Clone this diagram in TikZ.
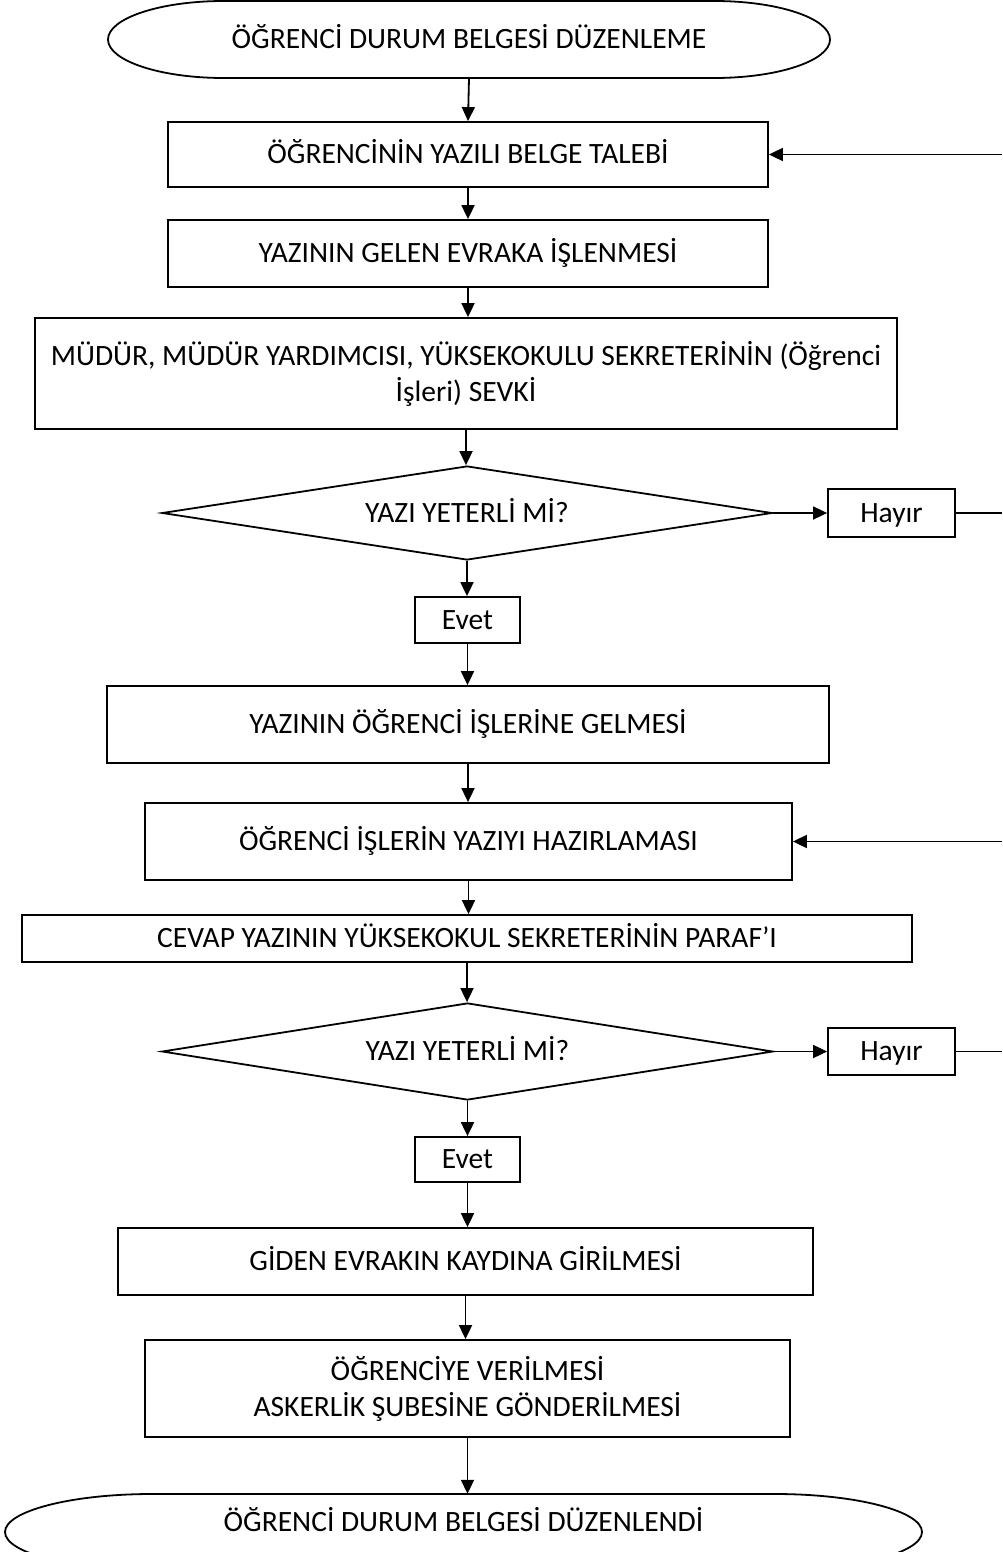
\documentclass[tikz,border=0pt]{standalone}
\usepackage{fontspec}
\setmainfont{Carlito}
\usetikzlibrary{arrows.meta,shapes.geometric}

% terminator outline: left x, top y, right x, bottom y (elliptic ends)
\newcommand{\termoutline}[4]{%
  \pgfmathsetmacro{\tr}{0.16*(#3-#1)}%
  \pgfmathsetmacro{\tm}{0.5*(#2+#4)}%
  \pgfmathsetmacro{\th}{0.5*(#4-#2)}%
  \draw[line] ({#1+\tr},#2) -- ({#3-\tr},#2)
    .. controls ({#3-0.45*\tr},#2) and (#3,{\tm-0.55*\th}) .. (#3,\tm)
    .. controls (#3,{\tm+0.55*\th}) and ({#3-0.45*\tr},#4) .. ({#3-\tr},#4)
    -- ({#1+\tr},#4)
    .. controls ({#1+0.45*\tr},#4) and (#1,{\tm+0.55*\th}) .. (#1,\tm)
    .. controls (#1,{\tm-0.55*\th}) and ({#1+0.45*\tr},#2) .. cycle;}

\begin{document}
\begin{tikzpicture}[x=1pt,y=-1pt,
  every node/.style={font=\fontsize{29.5}{36}\selectfont, inner sep=0pt},
  oneline/.style={text height=18.9pt, text depth=0pt},
  line/.style={line width=1.8pt, black},
  proc/.style={draw, line width=1.8pt, align=center},
  decide/.style={draw, diamond, aspect=6.5, line width=1.8pt, oneline},
  arr/.style={line, -{Triangle[length=14pt,width=13pt]}},
]
\useasboundingbox (0,0) rectangle (1002,1552);

% start terminator
\termoutline{108}{1}{830}{78}
\node[oneline, minimum width=722pt, minimum height=77pt] (start) at (469,39.5) {ÖĞRENCİ DURUM BELGESİ DÜZENLEME};

\node[proc, oneline, minimum width=600pt, minimum height=65pt] (b1) at (468,154.5) {ÖĞRENCİNİN YAZILI BELGE TALEBİ};
\node[proc, oneline, minimum width=600pt, minimum height=67pt] (b2) at (468,253.5) {YAZININ GELEN EVRAKA İŞLENMESİ};
\node[proc, minimum width=862pt, minimum height=111pt] (b3) at (466,373.5) {MÜDÜR, MÜDÜR YARDIMCISI, YÜKSEKOKULU SEKRETERİNİN (Öğrenci\\İşleri) SEVKİ};
\node[decide, minimum width=610pt, minimum height=94pt] (d1) at (467,513) {YAZI YETERLİ Mİ?};
\node[proc, oneline, minimum width=127pt, minimum height=48pt] (h1) at (891.5,513) {Hayır};
\node[proc, oneline, minimum width=105pt, minimum height=46pt] (e1) at (467.5,620) {Evet};
\node[proc, oneline, minimum width=722pt, minimum height=77pt] (b4) at (468,724.5) {YAZININ ÖĞRENCİ İŞLERİNE GELMESİ};
\node[proc, oneline, minimum width=647pt, minimum height=77pt] (b5) at (468.5,841.5) {ÖĞRENCİ İŞLERİN YAZIYI HAZIRLAMASI};
\node[proc, oneline, minimum width=890pt, minimum height=47pt] (b6) at (467,938.5) {CEVAP YAZININ YÜKSEKOKUL SEKRETERİNİN PARAF’I};
\node[decide, minimum width=611pt, minimum height=97pt] (d2) at (467.5,1051.5) {YAZI YETERLİ Mİ?};
\node[proc, oneline, minimum width=127pt, minimum height=47pt] (h2) at (891.5,1051.5) {Hayır};
\node[proc, oneline, minimum width=105pt, minimum height=45pt] (e2) at (467.5,1159.5) {Evet};
\node[proc, oneline, minimum width=695pt, minimum height=67pt] (b7) at (465.5,1261.5) {GİDEN EVRAKIN KAYDINA GİRİLMESİ};
\node[proc, minimum width=645pt, minimum height=97pt] (b8) at (467.5,1388.5) {ÖĞRENCİYE VERİLMESİ\\ASKERLİK ŞUBESİNE GÖNDERİLMESİ};

% end terminator
\termoutline{5}{1494}{922}{1570}
\node[oneline, minimum width=917pt, minimum height=56pt] (end) at (463.5,1522) {ÖĞRENCİ DURUM BELGESİ DÜZENLENDİ};

% main flow
\draw[arr] (start.south) -- (b1.north);
\draw[arr] (b1) -- (b2);
\draw[arr] (b2.south) -- (b2.south |- b3.north);
\draw[arr] (b3.south) -- (b3.south |- d1.north);
\draw[arr] (d1.south) -- (d1.south |- e1.north);
\draw[arr] (e1.south) -- (e1.south |- b4.north);
\draw[arr] (b4.south) -- (b4.south |- b5.north);
\draw[arr] (b5.south) -- (b5.south |- b6.north);
\draw[arr] (b6.south) -- (b6.south |- d2.north);
\draw[arr] (d2.south) -- (d2.south |- e2.north);
\draw[arr] (e2.south) -- (e2.south |- b7.north);
\draw[arr] (b7.south) -- (b7.south |- b8.north);
\draw[arr] (b8.south) -- (b8.south |- end.north);

% "no" branches and return lines
\draw[arr] (d1.east) -- (h1.west);
\draw[arr] (d2.east) -- (h2.west);
\coordinate (r1) at (1002,154.5);
\coordinate (r2) at (1002,513);
\coordinate (r3) at (1002,841.5);
\coordinate (r4) at (1002,1051.5);
\draw[arr] (r1) -- (b1.east);
\draw[line] (h1.east) -- (r2);
\draw[arr] (r3) -- (b5.east);
\draw[line] (h2.east) -- (r4);
\end{tikzpicture}
\end{document}
